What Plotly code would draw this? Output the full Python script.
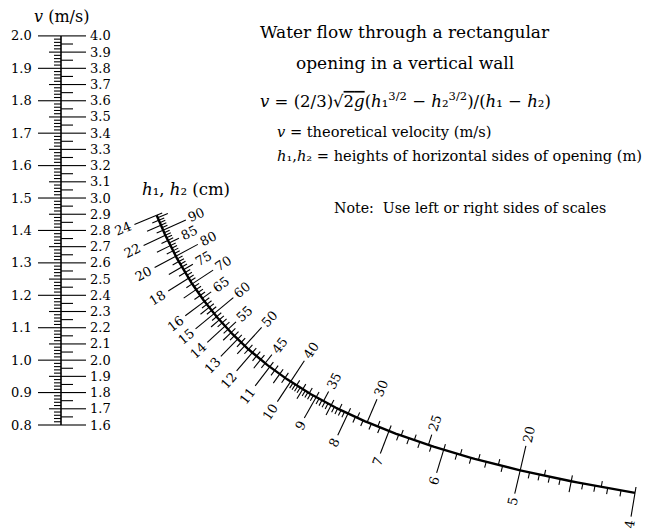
import math
import plotly.graph_objects as go

W, H = 651, 531
FONT = "DejaVu Serif"

# ---------------- data (scale values) ----------------
v_left_labels = [0.8, 0.9, 1.0, 1.1, 1.2, 1.3, 1.4, 1.5, 1.6, 1.7, 1.8, 1.9, 2.0]
v_right_labels = [1.6, 1.7, 1.8, 1.9, 2.0, 2.1, 2.2, 2.3, 2.4, 2.5, 2.6, 2.7, 2.8,
                  2.9, 3.0, 3.1, 3.2, 3.3, 3.4, 3.5, 3.6, 3.7, 3.8, 3.9, 4.0]
h_left_labels = [4, 5, 6, 7, 8, 9, 10, 11, 12, 13, 14, 15, 16, 18, 20, 22, 24]
h_right_labels = [20, 25, 30, 35, 40, 45, 50, 55, 60, 65, 70, 75, 80, 85, 90]
h_left_range = [4, 24]          # cm, left side of curved scale
h_right_factor = 4              # right side of curve = 4 x left (cm)
v_right_factor = 2              # right side of v scale = 2 x left (m/s)

# minor tick sections for the curved scale (start, stop, step) in left-side cm
h_left_sections = [(4, 5, 0.1), (5, 8, 0.2), (8, 10, 0.1), (10, 16, 0.25), (16, 24, 0.5)]
h_right_step = 1                # right-side minor step (cm)
v_left_step = 0.01
v_right_step = 0.05

# ---------------- nomogram geometry (layout) ----------------
X0, A, B, C = 61.0, 22.96, 684.4, 957.5     # pixel mapping of nomogram plane
KV = (2.0 / 3.0) * math.sqrt(2 * 9.81)      # v = KV * slope


def to_px(xd, yd):
    return X0 + A * xd, B - C * yd


def to_data(px, py):
    return (px - X0) / A, (B - py) / C


def v_pos(v):
    return to_px(0.0, v / KV)


def h_pos(h_cm):
    h = h_cm / 100.0
    return to_px(1.0 / h, math.sqrt(h))


def h_normal(h_cm):
    e = 1e-4
    x1, y1 = h_pos(h_cm + e)
    x0, y0 = h_pos(h_cm - e)
    tx, ty = x1 - x0, y1 - y0
    n = math.hypot(tx, ty)
    tx, ty = tx / n, ty / n
    return -ty, tx  # points up-right


seg_x, seg_y = [], []
annotations = []


def add_seg(p0, p1):
    a = to_data(*p0)
    b = to_data(*p1)
    seg_x.extend([a[0], b[0], None])
    seg_y.extend([a[1], b[1], None])


def add_text(px, py, text, size=13, angle=0, xanchor="center", yanchor="middle"):
    xd, yd = to_data(px, py)
    annotations.append(dict(x=xd, y=yd, xref="x", yref="y", text=text, showarrow=False,
                            textangle=angle, xanchor=xanchor, yanchor=yanchor,
                            font=dict(family=FONT, size=size, color="black")))


def close(a, b):
    return abs(a - b) < 1e-6


FS = 13

# ---------------- v scale ----------------
vmin, vmax = v_left_labels[0], v_left_labels[-1]
n = int(round((vmax - vmin) / v_left_step))
for i in range(n + 1):
    v = vmin + i * v_left_step
    L = 23 if i % 10 == 0 else (12 if i % 5 == 0 else 7)
    px, py = v_pos(v)
    add_seg((px - L, py), (px, py))
for v in v_left_labels:
    px, py = v_pos(v)
    add_text(px - 27, py, f"{v:.1f}", FS, xanchor="right")

vrmin, vrmax = v_right_labels[0], v_right_labels[-1]
n = int(round((vrmax - vrmin) / v_right_step))
for i in range(n + 1):
    vr = vrmin + i * v_right_step
    L = 25 if i % 2 == 0 else 12
    px, py = v_pos(vr / v_right_factor)
    add_seg((px, py), (px + L, py))
for vr in v_right_labels:
    px, py = v_pos(vr / v_right_factor)
    add_text(px + 27, py, f"{vr:.1f}", FS, xanchor="left")

# ---------------- curved h scale ----------------
def char_half(text, size):
    return 0.5 * len(text) * 0.63 * size


left_vals = set()
for s, e, st in h_left_sections:
    k = int(round((e - s) / st))
    for i in range(k + 1):
        left_vals.add(round(s + i * st, 4))
for h in sorted(left_vals):
    if any(close(h, l) for l in h_left_labels):
        L = 24
    elif close(h, round(h)):
        L = 15
    elif close(h * 2, round(h * 2)):
        L = 11 if h < 16 else 7
    else:
        L = 6
    px, py = h_pos(h)
    nx, ny = h_normal(h)
    add_seg((px, py), (px - nx * L, py - ny * L))

for h in h_left_labels:
    px, py = h_pos(h)
    nx, ny = h_normal(h)
    t = str(h)
    d = 24 + 4 + char_half(t, FS)
    ang = math.degrees(math.atan2(ny, nx))
    add_text(px - nx * d, py - ny * d, t, FS, ang)

hr_min = h_left_range[0] * h_right_factor
hr_max = h_left_range[1] * h_right_factor
hr = hr_min
while hr <= hr_max + 1e-9:
    if hr % 10 == 0:
        L = 25
    elif hr % 5 == 0:
        L = 11
    else:
        L = 6
    h = hr / h_right_factor
    px, py = h_pos(h)
    nx, ny = h_normal(h)
    add_seg((px, py), (px + nx * L, py + ny * L))
    hr += h_right_step

for hr in h_right_labels:
    h = hr / h_right_factor
    px, py = h_pos(h)
    nx, ny = h_normal(h)
    t = str(hr)
    L = 25 if hr % 10 == 0 else 11
    d = L + 4 + char_half(t, FS)
    ang = math.degrees(math.atan2(ny, nx))
    add_text(px + nx * d, py + ny * d, t, FS, ang)

# curve itself
cx, cy = [], []
NS = 400
for i in range(NS + 1):
    h = h_left_range[0] + (h_left_range[1] - h_left_range[0]) * i / NS
    xd, yd = to_data(*h_pos(h))
    cx.append(xd)
    cy.append(yd)

# v axis line
vx0, vy0 = to_data(*v_pos(vmin))
vx1, vy1 = to_data(*v_pos(vmax))

fig = go.Figure()
fig.add_trace(go.Scatter(x=seg_x, y=seg_y, mode="lines",
                         line=dict(color="black", width=1.1), hoverinfo="skip"))
fig.add_trace(go.Scatter(x=[vx0, vx1], y=[vy0, vy1], mode="lines",
                         line=dict(color="black", width=1.6), hoverinfo="skip"))
fig.add_trace(go.Scatter(x=cx, y=cy, mode="lines",
                         line=dict(color="black", width=2.4), hoverinfo="skip"))

# titles and notes
add_text(61, 16, "<i>v</i> (m/s)", 16)
add_text(186, 189, "<i>h</i>₁, <i>h</i>₂ (cm)", 16.5)
add_text(405, 32, "Water flow through a rectangular", 17)
add_text(405, 63, "opening in a vertical wall", 17)
add_text(405, 100,
         "<i>v</i> = (2/3)√<span style='text-decoration:overline'>2<i>g</i></span>"
         "(<i>h</i>₁<sup>3/2</sup> − <i>h</i>₂<sup>3/2</sup>)"
         "/(<i>h</i>₁ − <i>h</i>₂)", 16.5)
add_text(275, 131, "<i>v</i> = theoretical velocity (m/s)", 14.6, xanchor="left")
add_text(275, 155, "<i>h</i>₁,<i>h</i>₂ = heights of horizontal sides of opening (m)",
         14.6, xanchor="left")
add_text(470, 208, "Note:  Use left or right sides of scales", 14.2)

xr = [to_data(0, 0)[0], to_data(W, 0)[0]]
yr = [to_data(0, H)[1], to_data(0, 0)[1]]
fig.update_layout(
    width=W, height=H, autosize=False,
    margin=dict(l=0, r=0, t=0, b=0, pad=0),
    paper_bgcolor="white", plot_bgcolor="white",
    showlegend=False,
    xaxis=dict(range=xr, visible=False, fixedrange=True),
    yaxis=dict(range=yr, visible=False, fixedrange=True),
    annotations=annotations,
)
fig.write_html("out.html")
